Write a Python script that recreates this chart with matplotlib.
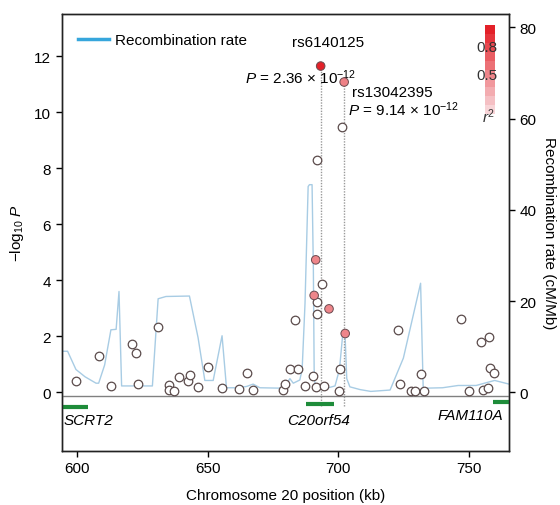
import numpy as np
import matplotlib
matplotlib.use("Agg")
import matplotlib.pyplot as plt
from matplotlib.lines import Line2D
from matplotlib.patches import Rectangle

plt.rcParams["font.family"] = ["Liberation Sans", "DejaVu Sans"]
plt.rcParams["mathtext.fontset"] = "custom"
plt.rcParams["mathtext.rm"] = "Liberation Sans"
plt.rcParams["mathtext.it"] = "Liberation Sans:italic"

# SNPs with low LD (open circles): position (kb), -log10 P
snp_pos = [599.6, 608.2, 613.0, 621.0, 622.4, 623.3, 631.1, 635.2, 635.0, 637.1,
           639.1, 642.5, 643.2, 646.4, 650.3, 655.5, 662.1, 665.0, 667.4, 679.0,
           679.7, 681.5, 684.6, 683.4, 687.3, 690.5, 691.5, 694.6, 692.0, 693.8,
           692.0, 692.0, 700.7, 700.4, 701.5, 723.1, 723.7, 727.9, 729.5, 731.6,
           732.9, 747.0, 750.1, 754.8, 757.8, 755.5, 757.6, 758.2, 759.7]
snp_logp = [0.39, 1.29, 0.22, 1.73, 1.40, 0.28, 2.34, 0.26, 0.09, 0.05,
            0.53, 0.41, 0.62, 0.20, 0.90, 0.16, 0.13, 0.69, 0.07, 0.07,
            0.28, 0.85, 0.85, 2.57, 0.24, 0.60, 0.18, 0.22, 8.28, 3.88,
            3.22, 2.78, 0.85, 0.03, 9.47, 2.21, 0.28, 0.06, 0.03, 0.66,
            0.04, 2.62, 0.06, 1.79, 1.96, 0.08, 0.15, 0.86, 0.70]

# SNPs in LD with the lead SNP (coloured by r2)
ld_pos = [691.4, 690.8, 696.5, 702.7, 702.3, 693.3]
ld_logp = [4.73, 3.46, 2.98, 2.10, 11.08, 11.65]
ld_r2 = [0.5, 0.5, 0.5, 0.5, 0.52, 1.0]

lead_snps = ["rs6140125", "rs13042395"]
lead_pos = [693.3, 702.3]
lead_logp = [11.65, 11.08]
lead_ptext = [r"$P$ = 2.36 $\times$ 10$^{-12}$", r"$P$ = 9.14 $\times$ 10$^{-12}$"]

# recombination rate (cM/Mb)
rec_pos = [594.0, 596.3, 599.5, 603.0, 607.2, 608.2, 610.5, 612.9, 614.9, 616.0,
           617.0, 628.8, 631.0, 634.0, 643.0, 646.3, 648.9, 652.1, 655.5, 657.2,
           662.0, 665.0, 667.4, 670.0, 679.0, 681.5, 682.8, 685.3, 686.2, 687.3,
           688.5, 689.0, 690.0, 690.5, 690.8, 691.2, 695.0, 698.8, 700.5, 701.8,
           702.6, 703.3, 704.5, 708.4, 712.5, 719.9, 725.0, 731.6, 732.6, 740.0,
           746.0, 752.9, 758.0, 760.0, 765.5]
rec_rate = [9.0, 9.0, 5.0, 3.4, 2.0, 2.0, 6.0, 13.7, 13.8, 22.1,
            1.4, 1.4, 20.5, 21.0, 21.1, 12.0, 2.6, 2.6, 12.4, 1.0,
            1.0, 1.3, 1.8, 1.0, 0.9, 3.0, 2.0, 2.7, 5.0, 19.5,
            45.1, 45.5, 45.5, 27.0, 5.0, 0.8, 0.8, 1.4, 5.0, 13.0,
            13.2, 3.0, 1.2, 0.6, 0.2, 0.5, 7.5, 23.9, 0.9, 1.0,
            1.5, 1.5, 2.3, 2.6, 1.8]

gene_names = ["SCRT2", "C20orf54", "FAM110A"]
gene_start = [594.0, 687.8, 759.3]
gene_end = [604.2, 698.6, 765.5]
gene_row = [-0.53, -0.41, -0.33]

RED = np.array([0.89, 0.13, 0.16])
LIGHT = np.array([0.98, 0.91, 0.92])
FS = 11


def r2_color(r2):
    return tuple(LIGHT + (RED - LIGHT) * r2)


fig = plt.figure(figsize=(5.6, 5.06), dpi=100)
ax = fig.add_axes([0.110, 0.107, 0.799, 0.864])
ax2 = ax.twinx()
ax.set_zorder(ax2.get_zorder() + 1)
ax.patch.set_visible(False)

ylo, yhi = -2.09, 13.52
ax.set_xlim(594.0, 765.5)
ax.set_ylim(ylo, yhi)
ax2.set_ylim(ylo * 6.137, yhi * 6.137)

ax2.plot(rec_pos, rec_rate, color="#a8cce4", lw=1.0)

ax.axhline(-0.13, color="#808080", lw=1.0, zorder=1)

for p, lp in zip(lead_pos, lead_logp):
    ax.plot([p, p], [-0.5, lp], color="#9a9a9a", lw=1.0, ls=(0, (1, 1)), zorder=2)

ax.scatter(snp_pos, snp_logp, s=38, facecolor="white", edgecolor="#5b4b4b",
           linewidth=0.9, zorder=3)
ax.scatter(ld_pos, ld_logp, s=38, c=[r2_color(r) for r in ld_r2],
           edgecolor="#6a4a4f", linewidth=0.7, zorder=4)

for name, s, e, row in zip(gene_names, gene_start, gene_end, gene_row):
    ax.plot([s, e], [row, row], color="#1e8c3a", lw=3, solid_capstyle="butt",
            zorder=2)
ax.text(594.9, -0.98, gene_names[0], style="italic", fontsize=FS, ha="left", va="center")
ax.text(692.6, -0.98, gene_names[1], style="italic", fontsize=FS, ha="center", va="center")
ax.text(763.4, -0.80, gene_names[2], style="italic", fontsize=FS, ha="right", va="center")

ax.text(696.1, 12.5, lead_snps[0], fontsize=FS, ha="center", va="center")
ax.text(685.7, 11.27, lead_ptext[0], fontsize=FS, ha="center", va="center")
ax.text(705.2, 10.72, lead_snps[1], fontsize=FS, ha="left", va="center")
ax.text(703.8, 10.13, lead_ptext[1], fontsize=FS, ha="left", va="center")

# r2 colour key
nb = 10
y0, y1 = 0.771, 0.973
hb = (y1 - y0) / nb
for i in range(nb):
    ax.add_patch(Rectangle((0.946, y0 + i * hb), 0.023, hb, transform=ax.transAxes,
                           facecolor=r2_color((i + 1) / nb), edgecolor="none",
                           zorder=5))
ax.text(0.951, 0.924, "0.8", transform=ax.transAxes, fontsize=FS,
        ha="center", va="center", color="#333333", zorder=6)
ax.text(0.951, 0.859, "0.5", transform=ax.transAxes, fontsize=FS,
        ha="center", va="center", color="#333333", zorder=6)
ax.text(0.955, 0.767, r"$r^2$", transform=ax.transAxes, fontsize=FS,
        ha="center", va="center", color="#333333", zorder=6)

handle = Line2D([], [], color="#36a6dc", lw=2.5)
ax.legend([handle], ["Recombination rate"], loc="center left",
          bbox_to_anchor=(0.037, 0.939), frameon=False, fontsize=FS,
          borderpad=0, borderaxespad=0, handlelength=2.0, handletextpad=0.4)

ax.set_xticks([600, 650, 700, 750])
ax.set_yticks(np.arange(0, 13, 2))
ax2.set_yticks([0, 20, 40, 60, 80])
for a in (ax, ax2):
    a.tick_params(direction="out", length=4, width=1, labelsize=FS)
    for sp in a.spines.values():
        sp.set_linewidth(1.0)
        sp.set_color("#222222")

ax.set_xlabel("Chromosome 20 position (kb)", fontsize=FS, labelpad=9)
ax.set_ylabel(r"$-$log$_{10}$ $P$", fontsize=FS, labelpad=6)
ax2.set_ylabel("Recombination rate (cM/Mb)", fontsize=FS, rotation=270,
               labelpad=14)

fig.savefig("out.png", dpi=100)
